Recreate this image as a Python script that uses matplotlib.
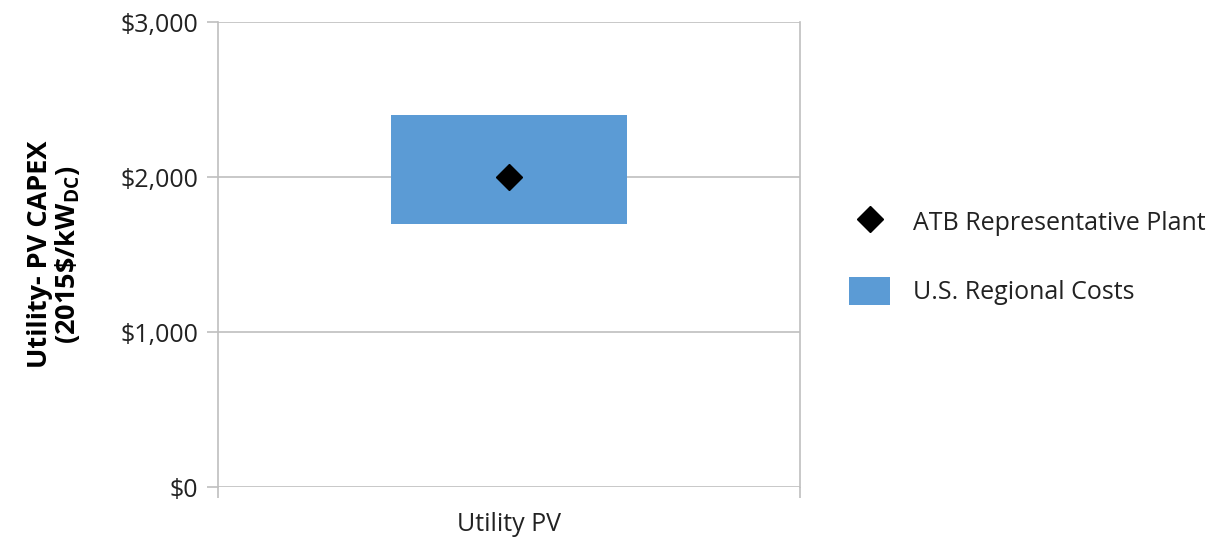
import matplotlib.pyplot as plt
from matplotlib.patches import Patch
from matplotlib.lines import Line2D

plt.rcParams['font.family'] = ['Open Sans', 'DejaVu Sans']
plt.rcParams['mathtext.fontset'] = 'custom'
plt.rcParams['mathtext.bf'] = 'Open Sans:bold'
plt.rcParams['mathtext.rm'] = 'Open Sans'

categories = ['Utility PV']
regional_low = [1700]
regional_high = [2400]
atb_plant = [2000]
y_ticks = [0, 1000, 2000, 3000]
y_labels = ['$0', '$1,000', '$2,000', '$3,000']

blue = '#5B9BD5'
grey = '#BFBFBF'

fig = plt.figure(figsize=(12.24, 5.37), dpi=100)
ax = fig.add_axes([0.178, 0.093, 0.476, 0.866])

x = list(range(len(categories)))
heights = [h - l for h, l in zip(regional_high, regional_low)]
ax.bar(x, heights, bottom=regional_low, width=0.81, color=blue, zorder=2)
ax.plot(x, atb_plant, linestyle='none', marker='D', markersize=13,
        color='black', zorder=3)

ax.set_xlim(-1, 1)
ax.set_ylim(0, 3000)
ax.set_yticks(y_ticks)
ax.set_yticklabels([s.replace('$', r'\$') for s in y_labels])
ax.grid(axis='y', color=grey, linewidth=1.2, zorder=0)
ax.set_axisbelow(True)

ax.set_xticks(x)
ax.set_xticklabels(categories)
ax.set_xticks([-1, 1], minor=True)
ax.tick_params(axis='x', which='major', length=0, pad=18, labelsize=18, colors='#222222')
ax.tick_params(axis='x', which='minor', length=8, width=1.2, color=grey)
ax.tick_params(axis='y', length=8, width=1.2, color=grey, labelsize=18,
               labelcolor='#222222', pad=6)

for side in ['left', 'right']:
    ax.spines[side].set_color(grey)
    ax.spines[side].set_linewidth(1.2)
ax.spines['top'].set_visible(False)
ax.spines['bottom'].set_visible(False)

ax.set_ylabel('Utility- PV CAPEX\n' + r'(2015\$/kW$_{\mathbf{DC}}$)',
              fontsize=19.5, fontweight='bold', labelpad=28, linespacing=1.0)

handles = [Line2D([], [], linestyle='none', marker='D', markersize=13, color='black'),
           Patch(facecolor=blue)]
fig.legend(handles, ['ATB Representative Plant', 'U.S. Regional Costs'],
           loc='center left', bbox_to_anchor=(0.675, 0.522), frameon=False,
           fontsize=18, handlelength=1.67, handleheight=1.33, labelspacing=1.62,
           handletextpad=0.92, labelcolor='#222222')

fig.savefig('out.png', dpi=100)
